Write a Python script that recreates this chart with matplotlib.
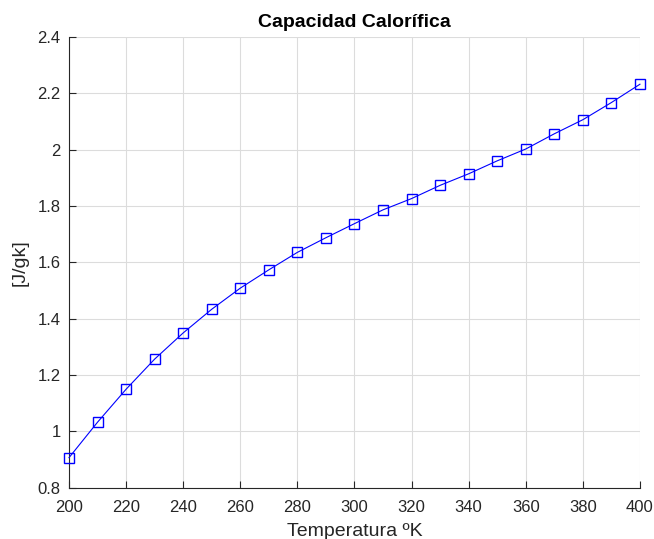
import matplotlib.pyplot as plt

# Datos: temperatura (K) y capacidad calorífica (J/gK)
temperatura = [200, 210, 220, 230, 240, 250, 260, 270, 280, 290, 300,
               310, 320, 330, 340, 350, 360, 370, 380, 390, 400]
cp = [0.906, 1.032, 1.149, 1.256, 1.349, 1.433, 1.508, 1.573, 1.635, 1.687, 1.737,
      1.786, 1.826, 1.873, 1.914, 1.960, 2.002, 2.056, 2.106, 2.167, 2.232]

xticks = list(range(200, 401, 20))
yticks = [0.8, 1.0, 1.2, 1.4, 1.6, 1.8, 2.0, 2.2, 2.4]
yticklabels = ["0.8", "1", "1.2", "1.4", "1.6", "1.8", "2", "2.2", "2.4"]

plt.rcParams['font.family'] = ['Liberation Sans', 'DejaVu Sans']

fig = plt.figure(figsize=(6.54, 5.39), dpi=100)
ax = fig.add_axes([0.1055, 0.0955, 0.873, 0.836])

ax.plot(temperatura, cp, color=(0, 0, 1), linewidth=0.8, marker='s',
        markersize=6.5, markerfacecolor='none', markeredgecolor=(0, 0, 1),
        markeredgewidth=1.0, clip_on=False, zorder=3)

ax.set_xlim(200, 400)
ax.set_ylim(0.8, 2.4)
ax.set_xticks(xticks)
ax.set_yticks(yticks)
ax.set_yticklabels(yticklabels)
ax.tick_params(direction='in', length=5, width=0.8, labelsize=12,
               colors='#262626')
ax.tick_params(axis='x', pad=9)
ax.tick_params(axis='y', pad=6)
ax.grid(True, color='#dcdcdc', linewidth=0.8)
ax.set_axisbelow(True)

for lado in ['top', 'right']:
    ax.spines[lado].set_visible(False)
for lado in ['left', 'bottom']:
    ax.spines[lado].set_color('#262626')
    ax.spines[lado].set_linewidth(0.8)

ax.set_title('Capacidad Calorífica', fontsize=14, fontweight='bold', pad=7)
ax.set_xlabel('Temperatura ºK', fontsize=14, color='#262626', labelpad=6)
ax.set_ylabel('[J/gk]', fontsize=14, color='#262626', labelpad=6)

fig.savefig('out.png', dpi=100)
